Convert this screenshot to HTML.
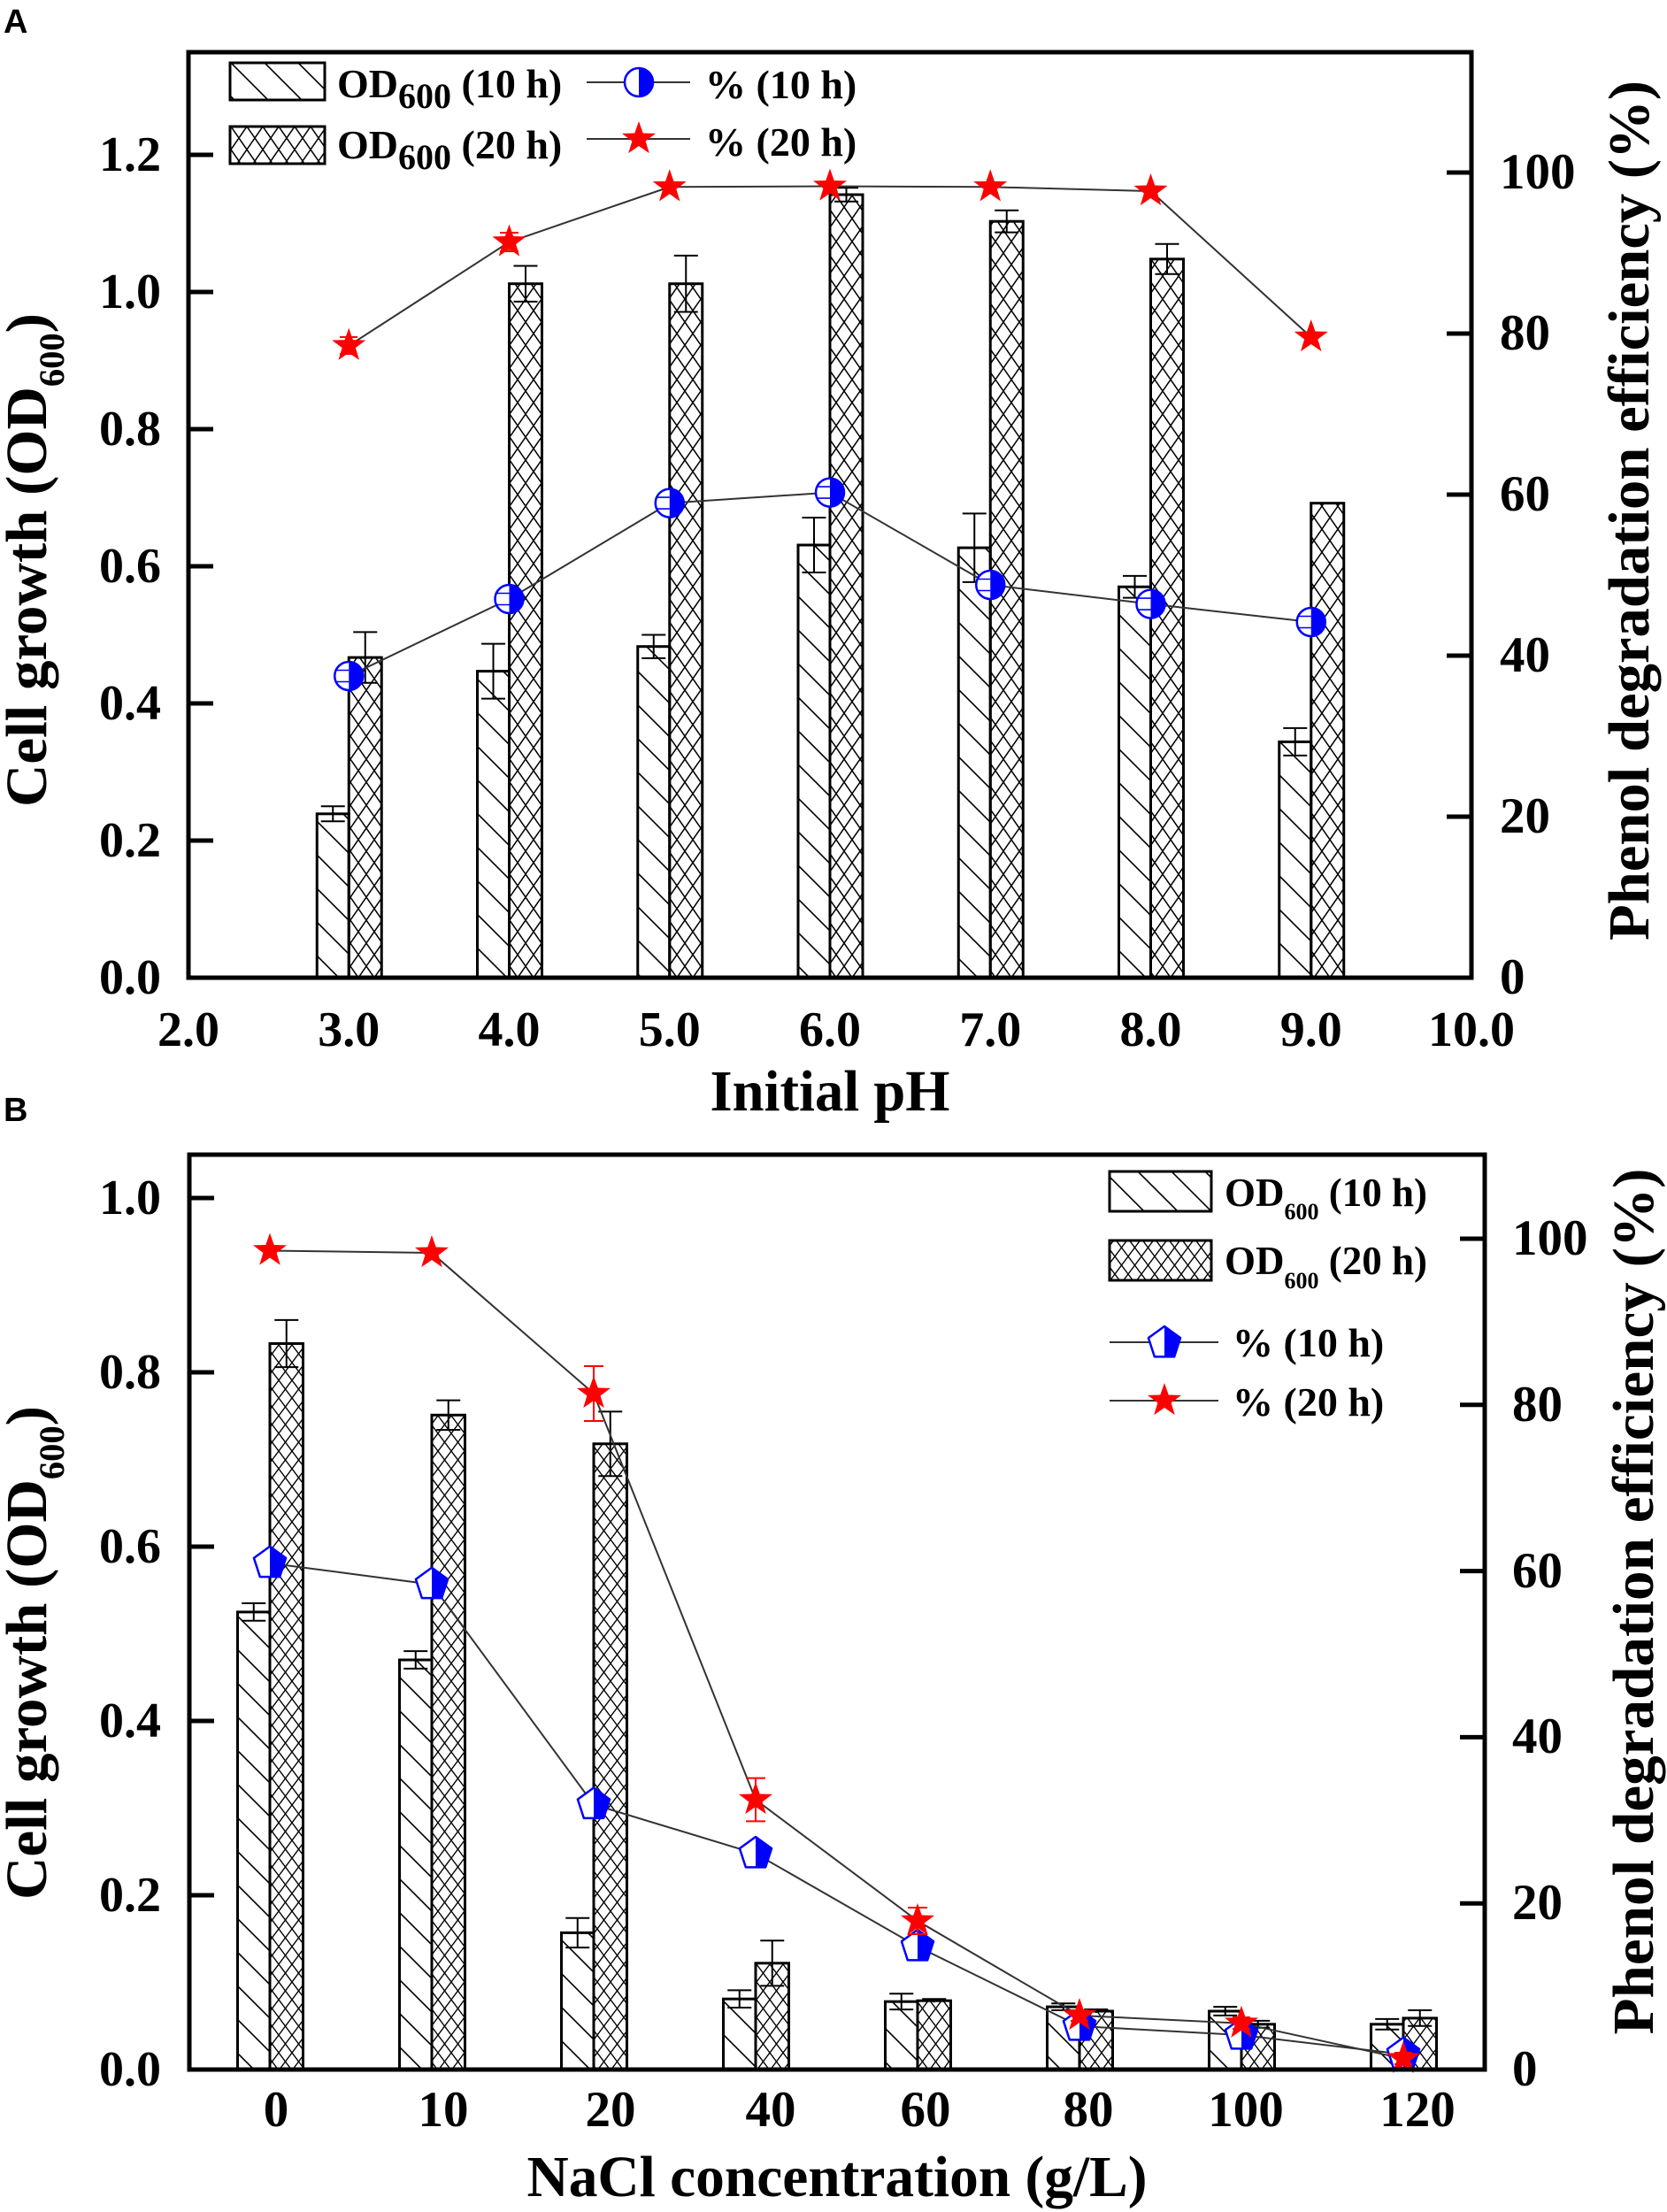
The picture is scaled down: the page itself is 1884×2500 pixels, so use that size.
<!DOCTYPE html>
<html>
<head>
<meta charset="utf-8">
<style>
html,body{margin:0;padding:0;background:#fff;}
svg{display:block;}
text{font-family:"Liberation Serif","Times New Roman",serif;font-weight:bold;fill:#000;}
.sans{font-family:"Liberation Sans",Arial,sans-serif;font-weight:bold;}
</style>
</head>
<body>
<svg width="1884" height="2500" viewBox="0 0 1884 2500" xmlns="http://www.w3.org/2000/svg">
<defs>
  <pattern id="hatch" patternUnits="userSpaceOnUse" width="38" height="38">
    <path d="M-2,-2 L40,40 M-12,26 L12,50 M26,-12 L50,12" stroke="#000" stroke-width="1.6" fill="none"/>
  </pattern>
  <pattern id="crossA" patternUnits="userSpaceOnUse" width="18" height="26">
    <path d="M-1,-1.44 L19,27.44 M19,-1.44 L-1,27.44" stroke="#000" stroke-width="1.5" fill="none"/>
  </pattern>
  <pattern id="crossB" patternUnits="userSpaceOnUse" width="15" height="20">
    <path d="M-1,-1.33 L16,21.33 M16,-1.33 L-1,21.33" stroke="#000" stroke-width="1.4" fill="none"/>
  </pattern>
  <g id="star">
    <polygon points="0,-20 4.70,-6.47 19.02,-6.18 7.61,2.47 11.76,16.18 0,8 -11.76,16.18 -7.61,2.47 -19.02,-6.18 -4.70,-6.47" fill="#ff0000"/>
  </g>
  <g id="hcirc">
    <circle cx="0" cy="0" r="16" fill="#fff" stroke="#0000ff" stroke-width="2.5"/>
    <path d="M0,-16 A16,16 0 0,1 0,16 Z" fill="#0000ff"/>
  </g>
  <g id="hcircE">
    <circle cx="0" cy="0" r="16" fill="#fff" stroke="#0000ff" stroke-width="2.5"/>
    <path d="M0,-16 A16,16 0 0,1 0,16 Z" fill="#0000ff"/>
    <path d="M-14,-6.5 H0 M-14,6.5 H0" stroke="#0000ff" stroke-width="1.6"/>
  </g>
  <g id="hpent">
    <polygon points="0,-19 18.07,-5.87 11.17,15.37 -11.17,15.37 -18.07,-5.87" fill="#fff" stroke="#0000ff" stroke-width="2.5" stroke-linejoin="round"/>
    <polygon points="0,-19 18.07,-5.87 11.17,15.37 0,15.37" fill="#0000ff"/>
  </g>
</defs>

<rect x="0" y="0" width="1884" height="2500" fill="#fff"/>

<!-- ================= PANEL A ================= -->
<text class="sans" x="4" y="37" font-size="38">A</text>

<!-- bars 10 h -->
<g fill="url(#hatch)" stroke="#000" stroke-width="3">
  <rect x="358.25" y="919.8" width="36" height="185.2"/>
  <rect x="539.5" y="758.6" width="36" height="346.4"/>
  <rect x="720.75" y="730.7" width="36" height="374.3"/>
  <rect x="902" y="616" width="36" height="489"/>
  <rect x="1083.25" y="619.1" width="36" height="485.9"/>
  <rect x="1264.5" y="663.25" width="36" height="441.75"/>
  <rect x="1445.75" y="838.4" width="36" height="266.6"/>
</g>
<!-- bars 20 h -->
<g fill="url(#crossA)" stroke="#000" stroke-width="3">
  <rect x="394.25" y="743.1" width="37" height="361.9"/>
  <rect x="575.5" y="320.7" width="37" height="784.3"/>
  <rect x="756.75" y="320.7" width="37" height="784.3"/>
  <rect x="938" y="220" width="37" height="885"/>
  <rect x="1119.25" y="250.2" width="37" height="854.8"/>
  <rect x="1300.5" y="292.8" width="37" height="812.2"/>
  <rect x="1481.75" y="568.7" width="37" height="536.3"/>
</g>
<!-- error bars -->
<path fill="none" stroke="#000" stroke-width="2" d="
M376.25,911.3 V928.3 M362.75,911.3 h27 M362.75,928.3 h27
M557.5,727.6 V789.6 M544,727.6 h27 M544,789.6 h27
M738.75,717.5 V743.9 M725.25,717.5 h27 M725.25,743.9 h27
M920,585 V647 M906.5,585 h27 M906.5,647 h27
M1101.25,580.35 V657.85 M1087.75,580.35 h27 M1087.75,657.85 h27
M1282.5,650.85 V675.65 M1269,650.85 h27 M1269,675.65 h27
M1463.75,822.9 V853.9 M1450.25,822.9 h27 M1450.25,853.9 h27
M412.75,714.4 V771.8 M399.25,714.4 h27 M399.25,771.8 h27
M594,300.5 V340.9 M580.5,300.5 h27 M580.5,340.9 h27
M775.25,288.9 V352.5 M761.75,288.9 h27 M761.75,352.5 h27
M956.5,212.25 V227.75 M943,212.25 h27 M943,227.75 h27
M1137.75,237.8 V262.6 M1124.25,237.8 h27 M1124.25,262.6 h27
M1319,275.8 V309.8 M1305.5,275.8 h27 M1305.5,309.8 h27
"/>
<!-- percent lines -->
<polyline fill="none" stroke="#333" stroke-width="2" points="394.25,764 575.5,677 756.75,568.6 938,556.6 1119.25,661 1300.5,682.6 1481.75,703"/>
<polyline fill="none" stroke="#333" stroke-width="2" points="394.25,390.7 575.5,273.5 756.75,211.3 938,210.5 1119.25,211.3 1300.5,216 1481.75,381"/>
<!-- star error bars -->
<path fill="none" stroke="#ff0000" stroke-width="2" d="
M394.25,381 V400 M384,381 h20 M384,400 h20
M575.5,263 V284 M565,263 h21 M565,284 h21
M756.75,205 V218 M938,204 V217 M1119.25,205 V218 M1300.5,210 V222 M1481.75,375 V388
"/>
<!-- markers -->
<use href="#hcircE" x="394.25" y="764"/>
<use href="#hcircE" x="575.5" y="677"/>
<use href="#hcircE" x="756.75" y="568.6"/>
<use href="#hcircE" x="938" y="556.6"/>
<use href="#hcircE" x="1119.25" y="661"/>
<use href="#hcircE" x="1300.5" y="682.6"/>
<use href="#hcircE" x="1481.75" y="703"/>
<use href="#star" x="394.25" y="390.7"/>
<use href="#star" x="575.5" y="273.5"/>
<use href="#star" x="756.75" y="211.3"/>
<use href="#star" x="938" y="210.5"/>
<use href="#star" x="1119.25" y="211.3"/>
<use href="#star" x="1300.5" y="216"/>
<use href="#star" x="1481.75" y="381"/>

<!-- axes frame -->
<rect x="213" y="59" width="1450" height="1046" fill="none" stroke="#000" stroke-width="5"/>
<path stroke="#000" stroke-width="5" d="
M213,950 H241 M213,795 H241 M213,640 H241 M213,485 H241 M213,330 H241 M213,175 H241
M1663,923 H1635 M1663,741 H1635 M1663,559 H1635 M1663,377 H1635 M1663,195 H1635"/>

<!-- left tick labels -->
<g font-size="56" text-anchor="end">
  <text x="182" y="1123">0.0</text>
  <text x="182" y="968">0.2</text>
  <text x="182" y="813">0.4</text>
  <text x="182" y="658">0.6</text>
  <text x="182" y="503">0.8</text>
  <text x="182" y="348">1.0</text>
  <text x="182" y="193">1.2</text>
</g>
<!-- right tick labels -->
<g font-size="57">
  <text x="1695" y="1123">0</text>
  <text x="1695" y="941">20</text>
  <text x="1695" y="759">40</text>
  <text x="1695" y="577">60</text>
  <text x="1695" y="395">80</text>
  <text x="1695" y="213">100</text>
</g>
<!-- x tick labels -->
<g font-size="56" text-anchor="middle">
  <text x="213" y="1182">2.0</text>
  <text x="394.25" y="1182">3.0</text>
  <text x="575.5" y="1182">4.0</text>
  <text x="756.75" y="1182">5.0</text>
  <text x="938" y="1182">6.0</text>
  <text x="1119.25" y="1182">7.0</text>
  <text x="1300.5" y="1182">8.0</text>
  <text x="1481.75" y="1182">9.0</text>
  <text x="1663" y="1182">10.0</text>
</g>
<text x="938" y="1255" font-size="66" text-anchor="middle" textLength="271" lengthAdjust="spacingAndGlyphs">Initial pH</text>
<text transform="translate(52,633) rotate(-90)" font-size="66" text-anchor="middle" textLength="558" lengthAdjust="spacingAndGlyphs">Cell growth (OD<tspan font-size="40" dy="20">600</tspan><tspan dy="-20">)</tspan></text>
<text transform="translate(1863,577) rotate(-90)" font-size="66" text-anchor="middle" textLength="972" lengthAdjust="spacingAndGlyphs">Phenol degradation efficiency (%)</text>

<!-- legend A -->
<rect x="260" y="71" width="107" height="42" fill="url(#hatch)" stroke="#000" stroke-width="3"/>
<rect x="260" y="143" width="107" height="42" fill="url(#crossA)" stroke="#000" stroke-width="3"/>
<text x="381" y="110" font-size="46">OD<tspan font-size="40" dy="12">600</tspan><tspan dy="-12"> (10 h)</tspan></text>
<text x="381" y="179" font-size="46">OD<tspan font-size="40" dy="12">600</tspan><tspan dy="-12"> (20 h)</tspan></text>
<path d="M663,93 H780 M663,157 H780" stroke="#333" stroke-width="2"/>
<use href="#hcirc" x="722" y="93"/>
<use href="#star" x="722" y="157"/>
<text x="797" y="111" font-size="46">% (10 h)</text>
<text x="797" y="176" font-size="46">% (20 h)</text>

<!-- ================= PANEL B ================= -->
<text class="sans" x="4" y="1267" font-size="38">B</text>

<g fill="url(#hatch)" stroke="#000" stroke-width="3">
  <rect x="268.5" y="1821.9" width="36.5" height="517.1"/>
  <rect x="451.5" y="1876" width="36.5" height="463"/>
  <rect x="634.5" y="2184.4" width="36.5" height="154.6"/>
  <rect x="817.5" y="2259.2" width="36.5" height="79.8"/>
  <rect x="1000.5" y="2262.2" width="36.5" height="76.8"/>
  <rect x="1183.5" y="2268.1" width="36.5" height="70.9"/>
  <rect x="1366.5" y="2273" width="36.5" height="66"/>
  <rect x="1549.5" y="2287.8" width="36.5" height="51.2"/>
</g>
<g fill="url(#crossB)" stroke="#000" stroke-width="3">
  <rect x="305" y="1518.5" width="37.5" height="820.5"/>
  <rect x="488" y="1599.3" width="37.5" height="739.7"/>
  <rect x="671" y="1631.8" width="37.5" height="707.2"/>
  <rect x="854" y="2218.8" width="37.5" height="120.2"/>
  <rect x="1037" y="2261.2" width="37.5" height="77.8"/>
  <rect x="1220" y="2273" width="37.5" height="66"/>
  <rect x="1403" y="2287.8" width="37.5" height="51.2"/>
  <rect x="1586" y="2280.9" width="37.5" height="58.1"/>
</g>
<path fill="none" stroke="#000" stroke-width="2" d="
M286.75,1812.05 V1831.75 M273.25,1812.05 h27 M273.25,1831.75 h27
M469.75,1866.15 V1885.85 M456.25,1866.15 h27 M456.25,1885.85 h27
M652.75,2167.7 V2201.1 M639.25,2167.7 h27 M639.25,2201.1 h27
M835.75,2249.35 V2269.05 M822.25,2249.35 h27 M822.25,2269.05 h27
M1018.75,2253.3 V2271.1 M1005.25,2253.3 h27 M1005.25,2271.1 h27
M1201.75,2264.2 V2272 M1188.25,2264.2 h27 M1188.25,2272 h27
M1384.75,2268.1 V2277.9 M1371.25,2268.1 h27 M1371.25,2277.9 h27
M1567.75,2281.9 V2293.7 M1554.25,2281.9 h27 M1554.25,2293.7 h27
M323.75,1491.9 V1545.1 M310.25,1491.9 h27 M310.25,1545.1 h27
M506.75,1582.6 V1616 M493.25,1582.6 h27 M493.25,1616 h27
M689.75,1595.4 V1668.2 M676.25,1595.4 h27 M676.25,1668.2 h27
M872.75,2193.2 V2244.4 M859.25,2193.2 h27 M859.25,2244.4 h27
M1055.75,2259.2 V2263.2 M1042.25,2259.2 h27
M1238.75,2271 V2275 M1225.25,2271 h27
M1421.75,2283.9 V2291.7 M1408.25,2283.9 h27 M1408.25,2291.7 h27
M1604.75,2272 V2289.8 M1591.25,2272 h27 M1591.25,2289.8 h27
"/>
<polyline fill="none" stroke="#333" stroke-width="2" points="305,1766.7 488,1790.7 671,2039.5 854,2095 1037,2200 1220,2290 1403,2300 1586,2321.7"/>
<polyline fill="none" stroke="#333" stroke-width="2" points="305,1413.5 488,1416 671,1575 854,2034 1037,2171 1220,2278 1403,2286.7 1586,2326.7"/>
<!-- pentagon error bars -->
<path fill="none" stroke="#0000ff" stroke-width="2" d="
M671,2029.5 V2049.5 M661,2029.5 h20 M661,2049.5 h20
M854,2085 V2105 M844,2085 h20 M844,2105 h20
M1037,2188 V2212 M1027,2188 h20 M1027,2212 h20
M1220,2285 V2295 M1210,2285 h20 M1210,2295 h20
M1403,2295 V2305 M1393,2295 h20 M1393,2305 h20
"/>
<use href="#hpent" x="305" y="1766.7"/>
<use href="#hpent" x="488" y="1790.7"/>
<use href="#hpent" x="671" y="2039.5"/>
<use href="#hpent" x="854" y="2095"/>
<use href="#hpent" x="1037" y="2200"/>
<use href="#hpent" x="1220" y="2290"/>
<use href="#hpent" x="1403" y="2300"/>
<use href="#hpent" x="1586" y="2321.7"/>
<!-- star error bars -->
<path fill="none" stroke="#ff0000" stroke-width="2" d="
M305,1406 V1421 M488,1409 V1423
M671,1544 V1606 M660,1544 h22 M660,1606 h22
M854,2009.6 V2058.4 M843,2009.6 h22 M843,2058.4 h22
M1037,2156 V2186 M1026,2156 h22 M1026,2186 h22
M1220,2272 V2284 M1210,2272 h20 M1210,2284 h20
M1403,2280 V2293 M1393,2280 h20 M1393,2293 h20
M1586,2320 V2333 M1576,2320 h20 M1576,2333 h20
"/>
<use href="#star" x="305" y="1413.5"/>
<use href="#star" x="488" y="1416"/>
<use href="#star" x="671" y="1575"/>
<use href="#star" x="854" y="2034"/>
<use href="#star" x="1037" y="2171"/>
<use href="#star" x="1220" y="2278"/>
<use href="#star" x="1403" y="2286.7"/>
<use href="#star" x="1586" y="2326.7"/>

<rect x="214" y="1305" width="1464" height="1034" fill="none" stroke="#000" stroke-width="5"/>
<path stroke="#000" stroke-width="5" d="
M214,2142 H242 M214,1945 H242 M214,1748 H242 M214,1551 H242 M214,1354 H242
M1678,2151.2 H1650 M1678,1963.4 H1650 M1678,1775.6 H1650 M1678,1587.8 H1650 M1678,1400 H1650"/>

<g font-size="56" text-anchor="end">
  <text x="182" y="2357">0.0</text>
  <text x="182" y="2160">0.2</text>
  <text x="182" y="1963">0.4</text>
  <text x="182" y="1766">0.6</text>
  <text x="182" y="1569">0.8</text>
  <text x="182" y="1372">1.0</text>
</g>
<g font-size="57">
  <text x="1709" y="2357">0</text>
  <text x="1709" y="2169">20</text>
  <text x="1709" y="1981">40</text>
  <text x="1709" y="1794">60</text>
  <text x="1709" y="1606">80</text>
  <text x="1709" y="1418">100</text>
</g>
<g font-size="57" text-anchor="middle">
  <text x="312" y="2403">0</text>
  <text x="501" y="2403">10</text>
  <text x="690" y="2403">20</text>
  <text x="871" y="2403">40</text>
  <text x="1046" y="2403">60</text>
  <text x="1230" y="2403">80</text>
  <text x="1408" y="2403">100</text>
  <text x="1602" y="2403">120</text>
</g>
<text x="946" y="2482" font-size="66" text-anchor="middle" textLength="701" lengthAdjust="spacingAndGlyphs">NaCl concentration (g/L)</text>
<text transform="translate(52,1868) rotate(-90)" font-size="66" text-anchor="middle" textLength="558" lengthAdjust="spacingAndGlyphs">Cell growth (OD<tspan font-size="40" dy="20">600</tspan><tspan dy="-20">)</tspan></text>
<text transform="translate(1868,1810) rotate(-90)" font-size="66" text-anchor="middle" textLength="979" lengthAdjust="spacingAndGlyphs">Phenol degradation efficiency (%)</text>

<!-- legend B -->
<rect x="1254" y="1324" width="115" height="45" fill="url(#hatch)" stroke="#000" stroke-width="3"/>
<rect x="1254" y="1402" width="115" height="45" fill="url(#crossB)" stroke="#000" stroke-width="3"/>
<text x="1384" y="1363" font-size="45">OD<tspan font-size="26" dy="15">600</tspan><tspan dy="-15"> (10 h)</tspan></text>
<text x="1384" y="1440" font-size="45">OD<tspan font-size="26" dy="16">600</tspan><tspan dy="-16"> (20 h)</tspan></text>
<path d="M1254,1517 H1377 M1254,1583 H1377" stroke="#333" stroke-width="2"/>
<use href="#hpent" x="1316" y="1518"/>
<use href="#star" x="1316" y="1583"/>
<text x="1393" y="1533" font-size="46">% (10 h)</text>
<text x="1393" y="1600" font-size="46">% (20 h)</text>
</svg>
</body>
</html>
